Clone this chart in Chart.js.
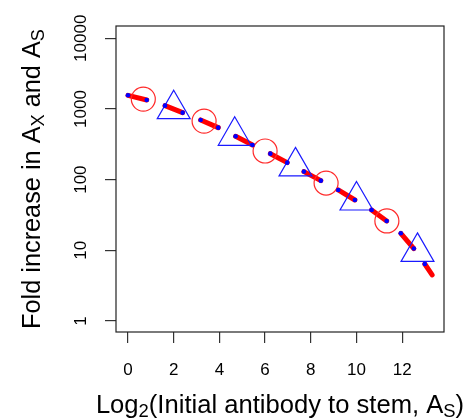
<!DOCTYPE html>
<html><head><meta charset="utf-8">
<script src="https://cdn.jsdelivr.net/npm/chart.js@4/dist/chart.umd.min.js"></script>
<style>html,body{margin:0;padding:0;background:#fff}canvas{display:block}</style>
</head><body>
<canvas id="c" width="473" height="419"></canvas>
<script>
// ---- data ----
const xTickValues = [0, 2, 4, 6, 8, 10, 12];
const yTickValues = [1, 10, 100, 1000, 10000];

// red segments (start / end), blue dots sit at these ends
const segStartX = [0.0, 1.62, 3.18, 4.71, 6.23, 7.70, 9.20, 10.66, 11.94, 12.99];
const segStartY = [1560, 1114, 699, 410, 233, 130, 71.4, 37.2, 17.4, 6.4];
const segEndX   = [0.82, 2.39, 3.95, 5.45, 6.97, 8.44, 9.93, 11.32, 12.51, 13.31];
const segEndY   = [1340, 887, 544, 309, 174, 96.8, 51.5, 26.0, 10.6, 4.5];
const segEndHasDot = [true, true, true, true, true, true, true, true, true, false];

// open circles (A_X) and open triangles (A_S)
const circleX = [0.67, 3.33, 6.0, 8.67, 11.33];
const circleY = [1380, 674, 254, 89.5, 26];
const triX = [2.0, 4.67, 7.33, 10.0, 12.67];
const triY = [993, 417, 154, 50.7, 9.5];

const xTitleParts = [{t:'Log'},{t:'2',sub:true},{t:'(Initial antibody to stem, A'},{t:'S',sub:true},{t:')'}];
const yTitleParts = [{t:'Fold increase in A'},{t:'X',sub:true},{t:' and A'},{t:'S',sub:true}];

// ---- build datasets ----
const FONT = "'Liberation Sans', Arial, Helvetica, sans-serif";
const segData = [];
const dotData = [];
for (let i = 0; i < segStartX.length; i++) {
  segData.push({x: segStartX[i], y: segStartY[i]});
  segData.push({x: segEndX[i], y: segEndY[i]});
  segData.push({x: segEndX[i], y: null});
  dotData.push({x: segStartX[i], y: segStartY[i]});
  if (segEndHasDot[i]) dotData.push({x: segEndX[i], y: segEndY[i]});
}
const circleData = circleX.map((x, i) => ({x, y: circleY[i]}));
const triData = triX.map((x, i) => ({x, y: triY[i]}));

function drawRich(ctx, parts, size, cx, cy, rot) {
  const subSize = size * 0.72;
  const subShift = size * 0.17;
  let w = 0;
  const widths = parts.map(p => {
    ctx.font = (p.sub ? subSize : size) + 'px ' + FONT;
    const m = ctx.measureText(p.t).width;
    w += m;
    return m;
  });
  ctx.save();
  ctx.translate(cx, cy);
  ctx.rotate(rot);
  ctx.fillStyle = '#000';
  ctx.textBaseline = 'alphabetic';
  ctx.textAlign = 'left';
  let x = -w / 2;
  parts.forEach((p, i) => {
    ctx.font = (p.sub ? subSize : size) + 'px ' + FONT;
    ctx.fillText(p.t, x, p.sub ? subShift : 0);
    x += widths[i];
  });
  ctx.restore();
}

const boxPlugin = {
  id: 'boxAndTitles',
  afterDraw(chart) {
    const ctx = chart.ctx, a = chart.chartArea;
    ctx.save();
    ctx.strokeStyle = '#222';
    ctx.lineWidth = 1.2;
    ctx.strokeRect(a.left, a.top, a.right - a.left, a.bottom - a.top);
    ctx.restore();
    drawRich(ctx, xTitleParts, 25.6, (a.left + a.right) / 2, 413, 0);
    drawRich(ctx, yTitleParts, 25.3, 40, (a.top + a.bottom) / 2, -Math.PI / 2);
  }
};

new Chart(document.getElementById('c'), {
  type: 'scatter',
  data: {
    datasets: [
      { label: 'dots', data: dotData, order: 0, showLine: false,
        pointRadius: 2.3, pointBackgroundColor: '#0000ff', pointBorderWidth: 0, pointStyle: 'circle' },
      { label: 'circles', data: circleData, order: 1, showLine: false,
        pointStyle: 'circle', pointRadius: 12, pointBorderColor: '#ff2a2a',
        pointBackgroundColor: 'rgba(0,0,0,0)', pointBorderWidth: 1.2 },
      { label: 'triangles', data: triData, order: 1, showLine: false,
        pointStyle: 'triangle', pointRadius: 19, pointBorderColor: '#1a1aff',
        pointBackgroundColor: 'rgba(0,0,0,0)', pointBorderWidth: 1.2 },
      { label: 'segments', type: 'line', data: segData, order: 2,
        borderColor: '#ff0000', borderWidth: 5, borderCapStyle: 'round',
        pointRadius: 0, spanGaps: false, fill: false, tension: 0 }
    ]
  },
  options: {
    responsive: false,
    animation: false,
    events: [],
    layout: { autoPadding: false, padding: { top: 26, right: 29, left: 0, bottom: 0 } },
    plugins: { legend: { display: false }, tooltip: { enabled: false }, title: { display: false } },
    scales: {
      x: {
        type: 'linear', position: 'bottom', min: -0.525, max: 13.83,
        afterBuildTicks: s => { s.ticks = xTickValues.map(v => ({value: v})); },
        afterFit: s => { s.height = 87; },
        ticks: { font: { family: FONT, size: 17 }, color: '#000', padding: 17,
                 minRotation: 0, maxRotation: 0, autoSkip: false, callback: v => String(v) },
        grid: { drawOnChartArea: false, drawTicks: true, tickLength: 11, color: '#333', lineWidth: 1.2 },
        border: { display: false }
      },
      y: {
        type: 'logarithmic', position: 'left', min: 0.698, max: 14930,
        afterBuildTicks: s => { s.ticks = yTickValues.map(v => ({value: v})); },
        afterFit: s => { s.width = 116; },
        ticks: { font: { family: FONT, size: 17 }, color: '#000', padding: 0,
                 minRotation: 90, maxRotation: 90, crossAlign: 'center', autoSkip: false,
                 callback: v => String(v) },
        grid: { drawOnChartArea: false, drawTicks: true, tickLength: 11, color: '#333', lineWidth: 1.2 },
        border: { display: false }
      }
    }
  },
  plugins: [boxPlugin]
});
</script>
</body></html>
